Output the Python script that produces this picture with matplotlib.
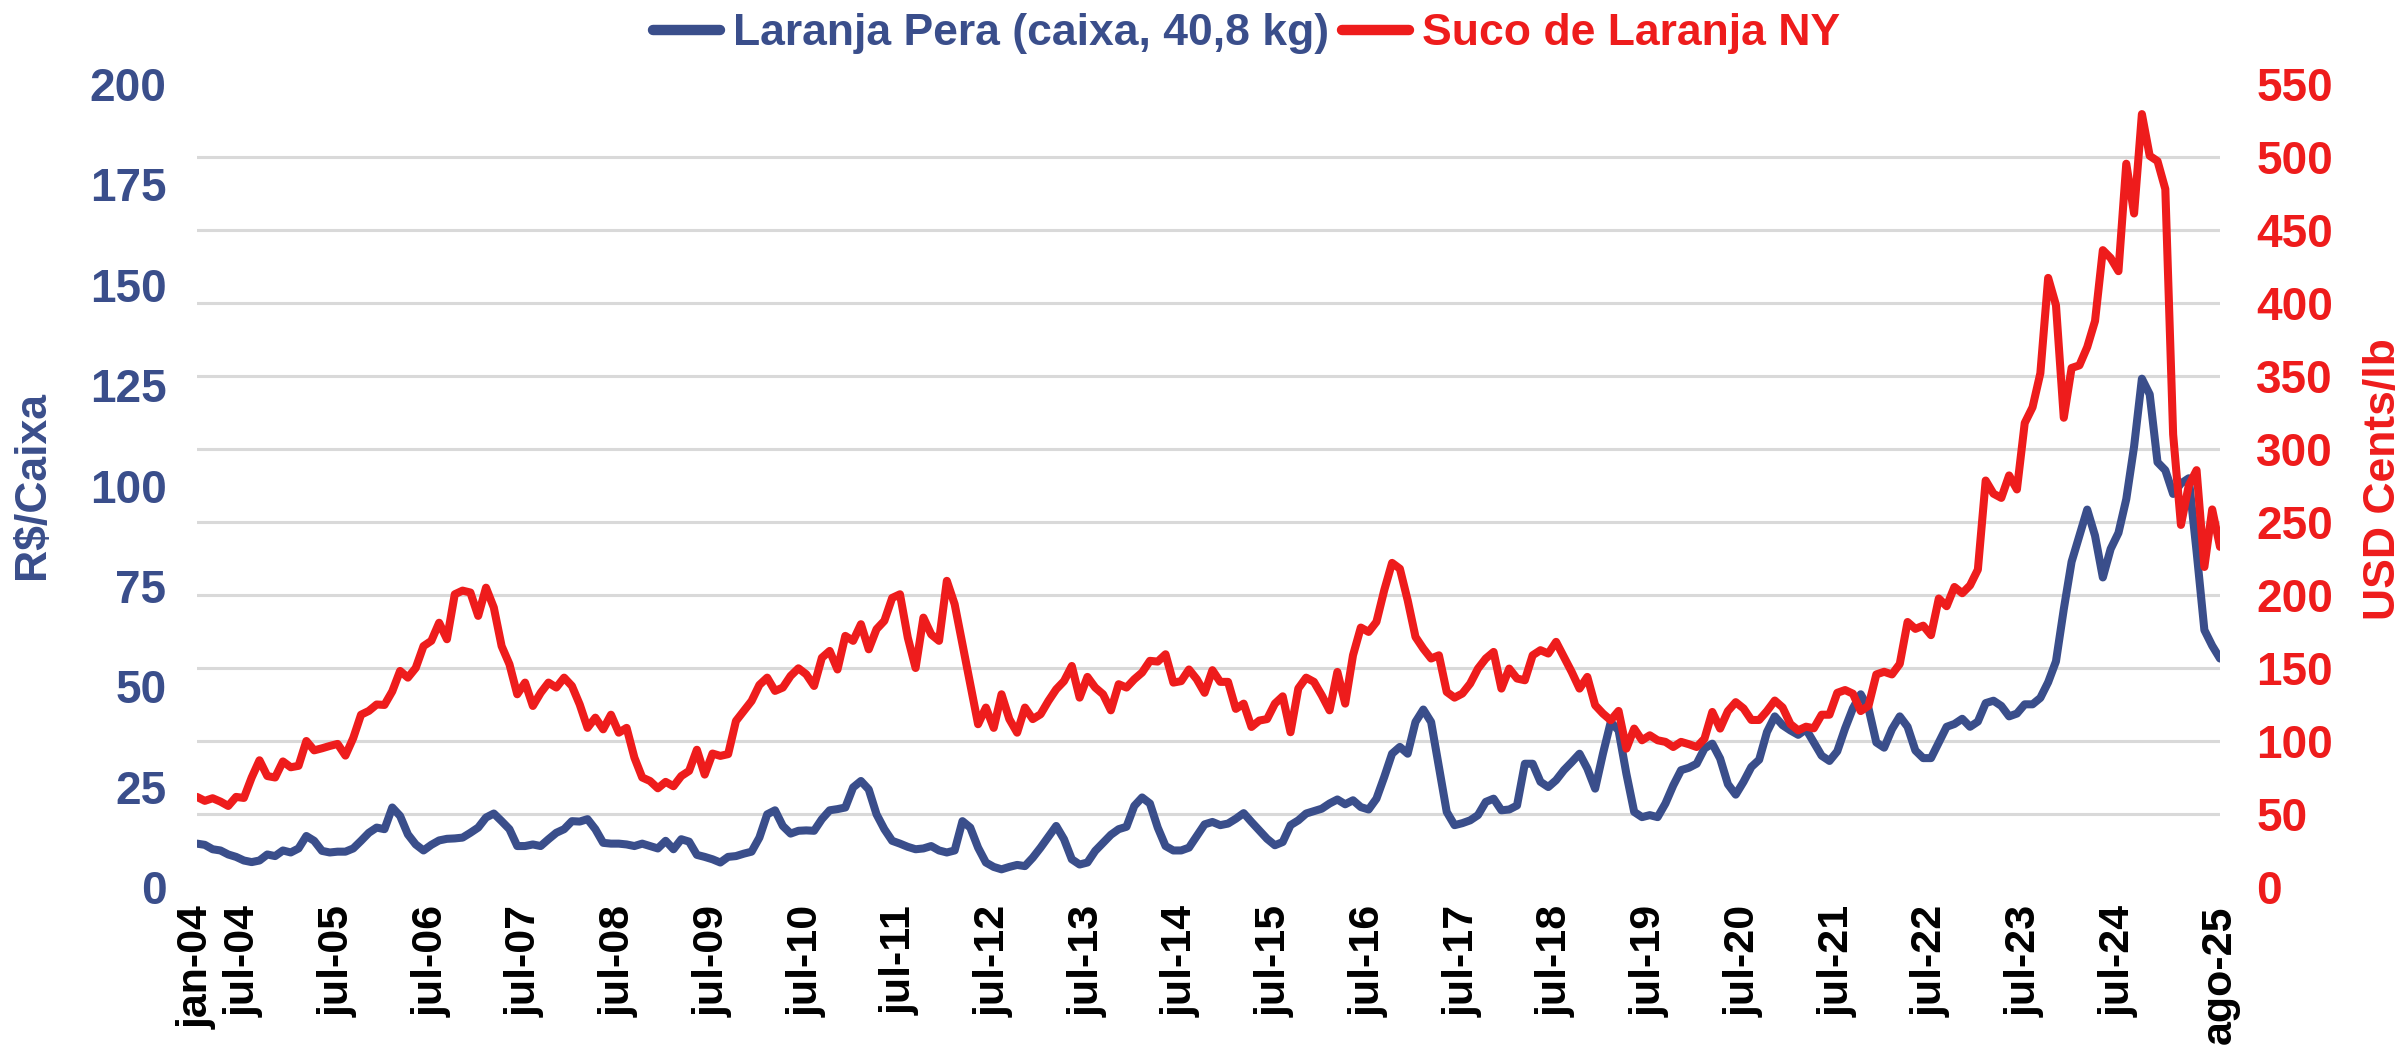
import matplotlib
matplotlib.use("Agg")
import matplotlib.pyplot as plt
from matplotlib.ticker import FixedLocator

# ---------------- data ----------------
x_labels = ["jan-04", "jul-04", "jul-05", "jul-06", "jul-07", "jul-08", "jul-09",
            "jul-10", "jul-11", "jul-12", "jul-13", "jul-14", "jul-15", "jul-16",
            "jul-17", "jul-18", "jul-19", "jul-20", "jul-21", "jul-22", "jul-23",
            "jul-24", "ago-25"]
x_label_months = [0, 6, 18, 30, 42, 54, 66, 78, 90, 102, 114, 126, 138, 150,
                  162, 174, 186, 198, 210, 222, 234, 246, 259]

laranja_pera = [
    10.8, 10.5, 9.4, 9.1, 8.1, 7.5, 6.6, 6.2, 6.6, 8.1, 7.7, 9.1, 8.6, 9.6, 12.7, 11.5,
    9.0, 8.6, 8.8, 8.8, 9.6, 11.5, 13.5, 14.8, 14.4, 19.8, 17.7, 13.1, 10.6, 9.1, 10.5, 11.6,
    12.0, 12.1, 12.3, 13.5, 14.8, 17.3, 18.3, 16.4, 14.4, 10.2, 10.2, 10.6, 10.2, 11.9, 13.5, 14.4,
    16.4, 16.3, 16.9, 14.4, 11.0, 10.8, 10.8, 10.6, 10.2, 10.8, 10.2, 9.6, 11.5, 9.4, 11.9, 11.3,
    8.0, 7.5,
    6.9, 6.1, 7.5, 7.7, 8.3, 8.8, 12.3, 18.1, 19.1, 15.2, 13.3, 14.0, 14.1, 14.0, 16.9, 19.1,
    19.4, 19.8, 24.8, 26.4, 24.3, 18.1, 14.4, 11.5, 10.8, 10.0, 9.4, 9.6, 10.2, 9.1, 8.6, 9.1,
    16.4, 14.8, 9.8, 6.1, 5.0, 4.4, 5.0, 5.5, 5.2, 7.3, 9.8, 12.5, 15.2, 11.9, 6.9, 5.6,
    6.1, 9.0, 11.0, 13.0, 14.4, 15.0, 20.2, 22.3, 20.8, 14.8, 10.2, 9.1, 9.1, 9.8, 12.7, 15.6,
    16.2, 15.4, 15.8, 17.0, 18.4, 16.2, 14.1, 12.0, 10.4, 11.2, 15.4, 16.6, 18.3, 18.9, 19.5, 20.8,
    21.8, 20.6, 21.6, 19.9, 19.3, 22.0, 27.4, 33.2, 34.9, 33.2, 41.1, 44.2, 41.1, 29.9, 18.7, 15.4,
    15.9, 16.6, 17.9, 21.2, 22.0, 19.1, 19.3, 20.3, 30.7, 30.7, 26.2, 24.9, 26.6, 29.1, 31.1, 33.2,
    29.5, 24.5, 33.2, 41.1, 39.0, 28.2, 18.7, 17.4, 17.9, 17.4, 20.8, 25.3, 29.1, 29.7, 30.7, 34.5,
    35.7, 32.0,
    25.6, 23.0, 26.2, 29.9, 31.7, 38.6, 42.5, 40.3, 39.0, 37.9, 39.3, 36.0, 32.7, 31.4, 33.8, 39.5,
    44.5, 48.0, 44.5, 36.0, 34.7, 39.3, 42.5, 39.9, 34.0, 32.1, 32.1, 36.0, 39.9, 40.6, 41.9, 39.9,
    41.2, 45.8, 46.4, 45.1, 42.5, 43.2, 45.5, 45.5, 47.1, 51.0, 56.2, 69.2, 81.0, 87.5, 94.0, 87.5,
    77.1, 84.2, 88.2, 96.6, 109.7, 126.6, 122.7, 105.8, 103.8, 97.9, 100.5, 101.8, 83.6, 64.0, 60.1, 56.9,
]

suco_ny = [
    61.7, 59.0, 60.8, 58.5, 55.5, 61.7, 61.0, 75.0, 86.8, 76.0, 75.0, 86.0, 82.0, 83.0, 100.0, 93.6,
    95.0, 96.6, 98.0, 90.0, 102.0, 118.0, 120.6, 125.0, 124.7, 134.0, 148.0, 143.4, 150.0, 165.0, 168.6, 181.0,
    169.7, 200.5, 203.0, 201.7, 185.7, 205.0, 191.4, 165.0, 152.6, 132.0, 140.0, 124.0, 133.0, 140.0, 136.6, 143.4,
    137.7, 125.0, 109.0, 116.0, 108.0, 118.0, 105.7, 109.0, 88.6, 75.0, 72.6, 67.6, 72.0, 69.0, 76.0, 79.5,
    94.0, 77.0,
    91.4, 89.8, 91.0, 113.7, 120.6, 127.4, 138.4, 143.4, 134.3, 136.6, 144.6, 149.8, 145.7, 137.7, 157.0, 161.7,
    149.0, 172.0, 168.6, 180.0, 162.8, 176.6, 182.3, 198.0, 200.5, 170.8, 150.0, 184.5, 173.0, 168.6, 209.7, 193.7,
    166.3, 138.9, 111.5, 122.9, 109.0, 132.0, 115.0, 105.7, 122.9, 115.0, 118.3, 127.4, 135.4, 141.0, 151.4, 129.7,
    143.9, 136.6, 132.0, 121.0, 138.9, 136.6, 142.3, 146.9, 154.9, 154.4, 159.4, 140.0, 141.0, 149.0, 142.3, 133.0,
    148.5, 140.5, 140.5, 122.0, 125.6, 109.6, 114.0, 115.0, 125.6, 130.6, 106.0, 136.0, 143.4, 140.5, 131.3, 121.0,
    147.3, 125.6, 158.7, 177.7, 174.7, 181.6, 203.3, 222.0, 218.0, 196.4, 171.3, 163.3, 156.5, 158.7, 133.6, 129.7,
    132.5, 139.3, 149.6, 156.5, 161.0, 135.9, 149.6, 142.8, 141.6, 158.7, 162.2, 159.9, 167.9, 157.6, 147.3, 135.9,
    143.9, 124.5, 118.8, 114.2, 120.6, 94.8, 108.5, 100.5, 103.9, 100.5, 99.4, 95.9, 99.4, 97.8, 95.9, 101.6,
    119.9, 108.5,
    120.5, 126.6, 122.3, 114.4, 114.4, 120.5, 127.7, 123.0, 111.6, 107.3, 109.8, 108.7, 118.0, 118.0, 133.0, 134.9,
    132.4, 120.5, 124.1, 145.6, 147.4, 145.6, 152.8, 181.5, 176.8, 179.0, 172.5, 197.6, 192.3, 205.5, 201.2, 206.6,
    217.4, 278.4, 269.4, 266.5, 281.9, 272.3, 317.8, 328.6, 351.9, 417.2, 398.5, 321.4, 355.5, 357.3, 369.8, 387.7,
    436.2, 430.8, 421.8, 495.4, 461.3, 529.4, 500.8, 497.2, 478.0, 310.0, 248.0, 275.0, 285.5, 219.2, 258.6, 233.0,
]

left_ticks = [0, 25, 50, 75, 100, 125, 150, 175, 200]
right_ticks = [0, 50, 100, 150, 200, 250, 300, 350, 400, 450, 500, 550]

label_blue = "Laranja Pera (caixa, 40,8 kg)"
label_red = "Suco de Laranja NY"

# ---------------- style ----------------
BLUE = "#3A4E8B"
RED = "#EE1C1C"
GRID = "#D9D9D9"
FONT = "Liberation Sans"
plt.rcParams["font.family"] = [FONT, "DejaVu Sans"]
plt.rcParams["font.weight"] = "bold"

fig = plt.figure(figsize=(24.07, 10.46), dpi=100)
ax = fig.add_axes([197 / 2407, 1 - 887 / 1046, (2220 - 197) / 2407, (887 - 84) / 1046])
ax2 = ax.twinx()

months = list(range(len(laranja_pera)))
l1, = ax.plot(months, laranja_pera, color=BLUE, lw=5.8, solid_joinstyle="round",
              solid_capstyle="round", label=label_blue, zorder=3)
l2, = ax2.plot(months, suco_ny, color=RED, lw=5.8, solid_joinstyle="round",
               solid_capstyle="round", label=label_red, zorder=3)

ax.set_xlim(0, len(laranja_pera) - 1)
ax.set_ylim(left_ticks[0], left_ticks[-1])
ax2.set_ylim(right_ticks[0], right_ticks[-1])

ax.set_yticks(left_ticks)
ax2.set_yticks(right_ticks)
# horizontal gridlines follow the right-hand scale
scale = left_ticks[-1] / right_ticks[-1]
ax.yaxis.set_minor_locator(FixedLocator([v * scale for v in right_ticks]))
ax.grid(which="minor", axis="y", color=GRID, lw=2.2, zorder=0)
ax.grid(which="major", visible=False)

ax.set_xticks(x_label_months)
ax.set_xticklabels(x_labels, rotation=90, ha="center", va="top",
                   fontsize=31, fontweight="bold", color="black")

ax.tick_params(axis="y", which="both", length=0, pad=22, labelsize=33, labelcolor=BLUE)
ax2.tick_params(axis="y", which="both", length=0, pad=26, labelsize=33, labelcolor=RED)
ax.tick_params(axis="x", which="both", length=0, pad=13)
for t in ax.get_yticklabels() + ax2.get_yticklabels():
    t.set_fontweight("bold")

for a in (ax, ax2):
    for s in a.spines.values():
        s.set_visible(False)

fig.text(33 / 2407, 1 - 485 / 1046, "R$/Caixa", rotation=90, ha="center", va="center",
         fontsize=32, fontweight="bold", color=BLUE, parse_math=False)
fig.text(2383 / 2407, 1 - 479 / 1046, "USD Cents/lb", rotation=90, ha="center", va="center",
         fontsize=32, fontweight="bold", color=RED, parse_math=False)

leg = fig.legend(handles=[l1, l2], loc="center", bbox_to_anchor=(0.518, 1 - 34 / 1046),
                 ncol=2, frameon=False, labelcolor="linecolor",
                 prop={"family": FONT, "weight": "bold", "size": 32},
                 handlelength=1.5, handletextpad=0.3, columnspacing=0.3,
                 borderaxespad=0, borderpad=0)
for h in leg.legend_handles:
    h.set_linewidth(7.5)

fig.savefig("out.png", dpi=100)
